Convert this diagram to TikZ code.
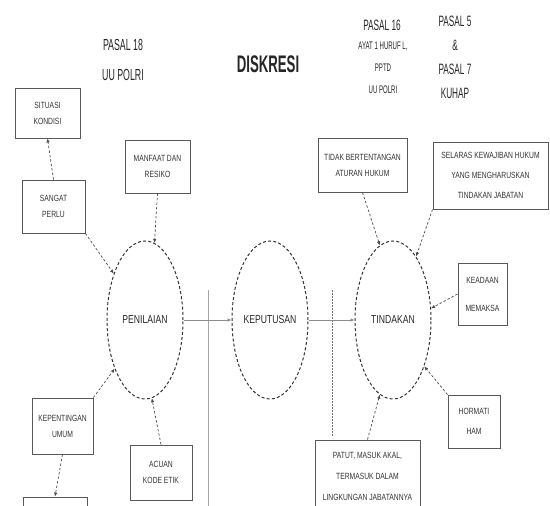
\documentclass[tikz,border=0pt]{standalone}
\usepackage{fontspec}
\setmainfont{Liberation Sans}[FakeStretch=0.75]
\newfontfamily\headfont{Liberation Sans}[FakeStretch=0.55]
\usetikzlibrary{arrows.meta,shapes.geometric}
\begin{document}
\begin{tikzpicture}[x=1pt,y=-1pt,
  box/.style={draw=black!65, line width=0.9pt, align=center, inner sep=0pt,
    text=black!80, font=\fontsize{9}{16}\selectfont},
  ell/.style={ellipse, draw=black!80, line width=1pt, dash pattern=on 3pt off 2.2pt,
    inner sep=0pt, minimum width=76pt, minimum height=158pt, text=black!85,
    font=\fontsize{11.5}{12}\selectfont},
  conn/.style={draw=black!70, line width=0.7pt, dash pattern=on 2.5pt off 2pt,
    -{Latex[length=4pt,width=3.5pt]}},
  flow/.style={draw=black!45, line width=0.7pt, -{Latex[length=4pt,width=3.5pt]}},
  head/.style={text=black!85, align=center},
]
\useasboundingbox (0,0) rectangle (550,506);

% headings
\node[head, font=\headfont\bfseries\fontsize{24}{24}\selectfont] (title) at (268,64) {DISKRESI};
\node[head, font=\headfont\fontsize{16}{30}\selectfont] (p18) at (123,60) {PASAL 18\\UU POLRI};
\node[head, font=\headfont\fontsize{15}{15}\selectfont] (p16a) at (382,25) {PASAL 16};
\node[head, font=\headfont\fontsize{11}{22}\selectfont] (p16b) at (383,68) {AYAT 1 HURUF L,\\PPTD\\UU POLRI};
\node[head, font=\headfont\fontsize{15}{24}\selectfont] (p5) at (455,57) {PASAL 5\\\&\\PASAL 7\\KUHAP};

% ellipses
\node[ell] (pen) at (145,320) {PENILAIAN};
\node[ell] (kep) at (270,320) {KEPUTUSAN};
\node[ell] (tin) at (393,320) {TINDAKAN};

% left boxes
\node[box, minimum width=65pt, minimum height=50pt] (sit) at (47.5,113) {SITUASI\\KONDISI};
\node[box, minimum width=63pt, minimum height=53pt] (sp) at (53.5,206.5) {SANGAT\\PERLU};
\node[box, minimum width=65pt, minimum height=53pt] (mr) at (157.5,166.5) {MANFAAT DAN\\RESIKO};
\node[box, minimum width=61pt, minimum height=56pt] (ku) at (62.5,426) {KEPENTINGAN\\UMUM};
\node[box, minimum width=62pt, minimum height=55pt] (ke) at (161,472.5) {ACUAN\\KODE ETIK};
\node[box, minimum width=64pt, minimum height=42pt] (bot) at (55,518) {};

% right boxes
\node[box, minimum width=89pt, minimum height=54pt] (tb) at (362.5,165) {TIDAK BERTENTANGAN\\ATURAN HUKUM};
\node[box, minimum width=115pt, minimum height=67pt, font=\fontsize{9}{20}\selectfont] (sel) at (490.5,175.5) {SELARAS KEWAJIBAN HUKUM\\YANG MENGHARUSKAN\\TINDAKAN JABATAN};
\node[box, minimum width=49pt, minimum height=62pt, font=\fontsize{9}{28}\selectfont] (km) at (482.5,294) {KEADAAN\\MEMAKSA};
\node[box, minimum width=52pt, minimum height=53pt, font=\fontsize{9}{20}\selectfont] (hh) at (474,421.5) {HORMATI\\HAM};
\node[box, minimum width=105pt, minimum height=72pt, font=\fontsize{9}{21}\selectfont] (pat) at (367.5,476) {PATUT, MASUK AKAL,\\TERMASUK DALAM\\LINGKUNGAN JABATANNYA};

% separator lines
\coordinate (s1a) at (208,290); \coordinate (s1b) at (208,506);
\coordinate (s2a) at (332,290); \coordinate (s2b) at (332,437);
\draw[black!35, line width=0.8pt] (s1a) -- (s1b);
\draw[black!55, line width=0.8pt, dash pattern=on 1.5pt off 1.5pt] (s2a) -- (s2b);

% connectors
\draw[conn] (sp.north) -- (sit.south);
\draw[conn] (sp.south east) -- (pen.124);
\draw[conn] (mr.south) -- (pen.83);
\draw[conn] (ku.north east) -- (pen.238);
\draw[conn] (ke.north) -- (pen.275);
\draw[conn] (ku.south) -- (bot.north);
\draw[flow] (pen.east) -- (kep.west);
\draw[flow] (kep.east) -- (tin.west);
\draw[conn] (tb.south) -- (tin.100);
\draw[conn] (sel.south west) -- (tin.70);
\draw[conn] (km.west) -- (tin.17);
\draw[conn] (hh.north west) -- (tin.-56);
\draw[conn] (pat.north) -- (tin.260);
\end{tikzpicture}
\end{document}
